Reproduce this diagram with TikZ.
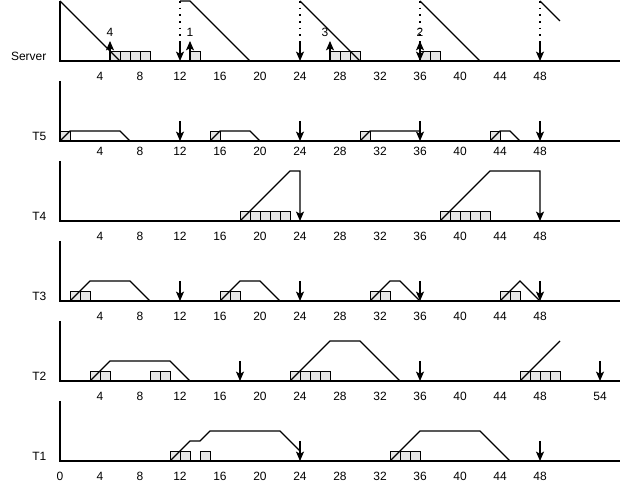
\documentclass[tikz,border=0pt]{standalone}
\usepackage{fontspec}
\setmainfont{Liberation Sans}
\usepackage{xcolor}
\definecolor{slotfill}{RGB}{230,230,230}
\usepackage{tikz}
\usetikzlibrary{arrows.meta}
\tikzset{
  axis/.style={line width=1.1pt},
  ramp/.style={line width=0.85pt},
  slot/.style={draw,fill=slotfill,line width=0.7pt},
  tick/.style={font=\fontsize{9}{10}\selectfont,inner sep=1pt},
  rowlabel/.style={font=\fontsize{9}{10}\selectfont,anchor=east,inner sep=1pt},
  deadline/.style={-{Stealth[length=7pt,width=6pt,inset=1.5pt]},line width=0.85pt},
  release/.style={-{Stealth[length=7pt,width=6pt,inset=1.5pt]},line width=0.85pt},
  poll/.style={line width=1.2pt,dash pattern=on 1.2pt off 3.8pt},
}
\begin{document}
\begin{tikzpicture}[x=7.5pt,y=0.75pt]
\useasboundingbox (-6,-430) rectangle (56.2,61);

% Server
\begin{scope}
\node[rowlabel] (server) at (-1.2,5) {Server};
\foreach \t in {5,6,7,8,13,27,28,29,36,37} \draw[slot] (\t,0) rectangle ++(1,10);
\draw[axis] (0,60) -- (0,0) -- (56,0);
\foreach \v in {4,8,...,48} \node[tick] (s\v) at (\v,-15) {\v};
\draw[ramp] (0,60) -- (6,0);
\draw[ramp] (12,60) -- (13,60) -- (19,0);
\draw[ramp] (24,60) -- (30,0);
\draw[ramp] (36,60) -- (42,0);
\draw[ramp] (48,60) -- (50,40);
\foreach \t in {12,24,36,48} {
  \draw[poll] (\t,60) -- (\t,22);
  \draw[deadline] (\t,20) -- (\t,0);
}
\foreach \t/\n/\x in {5/4/5,13/1/13,27/3/26.5,36/2/36} {
  \draw[release] (\t,0) -- (\t,20);
  \node[tick] (req\n) at (\x,29) {\n};
}
\end{scope}

% T5
\begin{scope}[shift={(0,-80)}]
\node[rowlabel] (t5) at (-1.2,5) {T5};
\foreach \t in {0,15,30,43} \draw[slot] (\t,0) rectangle ++(1,10);
\draw[axis] (0,60) -- (0,0) -- (56,0);
\foreach \v in {4,8,...,48} \node[tick] (f\v) at (\v,-10) {\v};
\draw[ramp] (0,0) -- (1,10) -- (6,10) -- (7,0);
\draw[ramp] (15,0) -- (16,10) -- (19,10) -- (20,0);
\draw[ramp] (30,0) -- (31,10) -- (36,10);
\draw[ramp] (43,0) -- (44,10) -- (45,10) -- (46,0);
\foreach \t in {12,24,36,48} \draw[deadline] (\t,20) -- (\t,0);
\end{scope}

% T4
\begin{scope}[shift={(0,-160)}]
\node[rowlabel] (t4) at (-1.2,5) {T4};
\foreach \t in {18,19,20,21,22,38,39,40,41,42} \draw[slot] (\t,0) rectangle ++(1,10);
\draw[axis] (0,60) -- (0,0) -- (56,0);
\foreach \v in {4,8,...,48} \node[tick] (e\v) at (\v,-15) {\v};
\draw[ramp,deadline] (18,0) -- (23,50) -- (24,50) -- (24,0);
\draw[ramp,deadline] (38,0) -- (43,50) -- (48,50) -- (48,0);
\end{scope}

% T3
\begin{scope}[shift={(0,-240)}]
\node[rowlabel] (t3) at (-1.2,5) {T3};
\foreach \t in {1,2,16,17,31,32,44,45} \draw[slot] (\t,0) rectangle ++(1,10);
\draw[axis] (0,60) -- (0,0) -- (56,0);
\foreach \v in {4,8,...,48} \node[tick] (d\v) at (\v,-15) {\v};
\draw[ramp] (1,0) -- (3,20) -- (7,20) -- (9,0);
\draw[ramp] (16,0) -- (18,20) -- (20,20) -- (22,0);
\draw[ramp] (31,0) -- (33,20) -- (34,20) -- (36,0);
\draw[ramp] (44,0) -- (46,20) -- (48,0);
\foreach \t in {12,24,36,48} \draw[deadline] (\t,20) -- (\t,0);
\end{scope}

% T2
\begin{scope}[shift={(0,-320)}]
\node[rowlabel] (t2) at (-1.2,5) {T2};
\foreach \t in {3,4,9,10,23,24,25,26,46,47,48,49} \draw[slot] (\t,0) rectangle ++(1,10);
\draw[axis] (0,60) -- (0,0) -- (56,0);
\foreach \v in {4,8,...,48,54} \node[tick] (c\v) at (\v,-15) {\v};
\draw[ramp] (3,0) -- (5,20) -- (11,20) -- (13,0);
\draw[ramp] (23,0) -- (27,40) -- (30,40) -- (34,0);
\draw[ramp] (46,0) -- (50,40);
\foreach \t in {18,36,54} \draw[deadline] (\t,20) -- (\t,0);
\end{scope}

% T1
\begin{scope}[shift={(0,-400)}]
\node[rowlabel] (t1) at (-1.2,5) {T1};
\foreach \t in {11,12,14,33,34,35} \draw[slot] (\t,0) rectangle ++(1,10);
\draw[axis] (0,60) -- (0,0) -- (56,0);
\foreach \v in {0,4,...,48} \node[tick] (b\v) at (\v,-15) {\v};
\draw[ramp] (11,0) -- (13,20) -- (14,20) -- (15,30) -- (22,30) -- (24,10);
\draw[ramp] (33,0) -- (36,30) -- (42,30) -- (45,0);
\foreach \t in {24,48} \draw[deadline] (\t,20) -- (\t,0);
\end{scope}
\end{tikzpicture}
\end{document}
